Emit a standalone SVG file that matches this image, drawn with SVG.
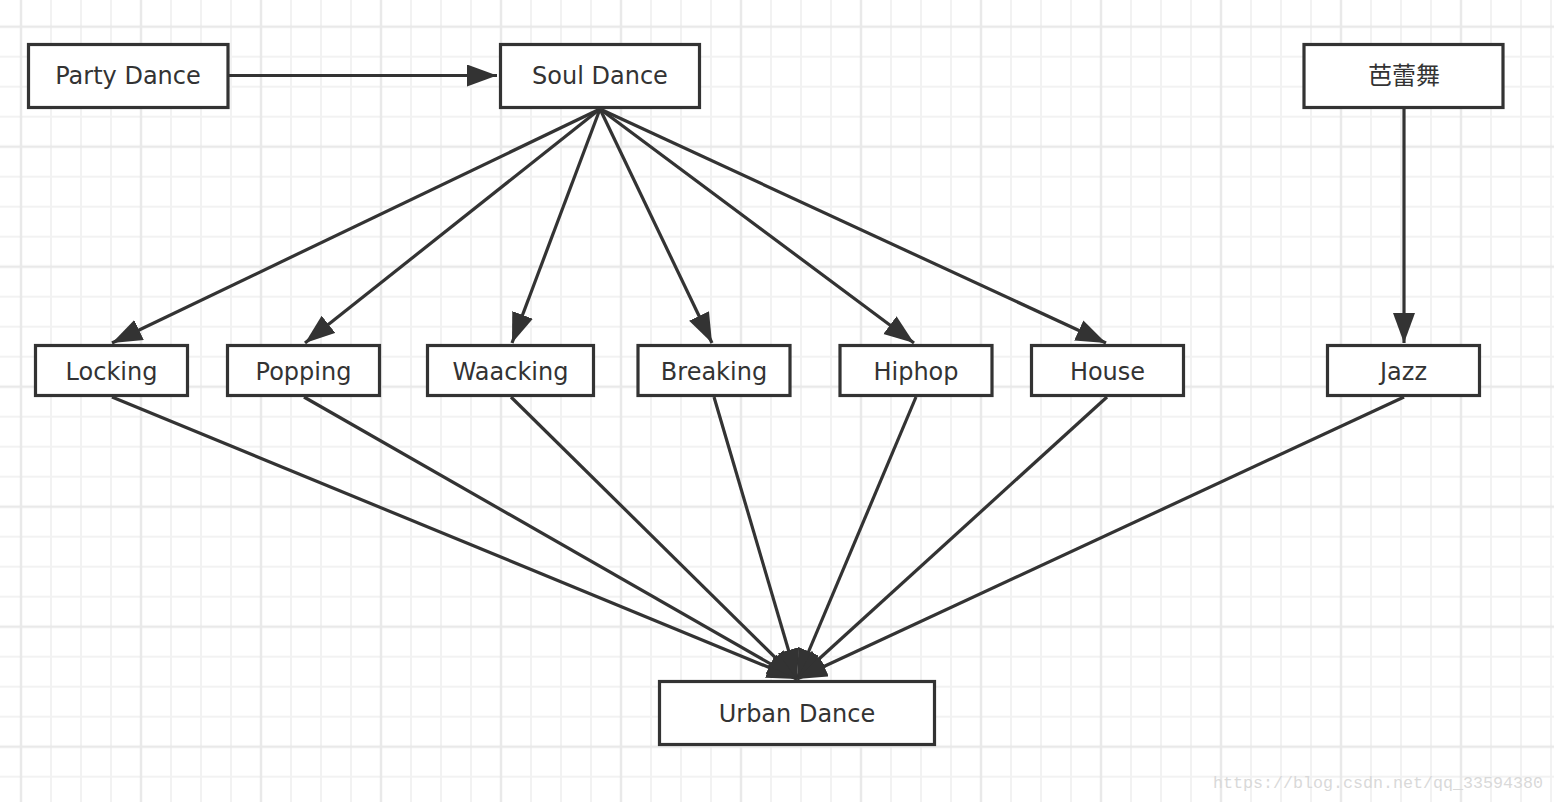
<svg xmlns="http://www.w3.org/2000/svg" width="1554" height="802" viewBox="0 0 1554 802">
<style>
.box{fill:#ffffff;stroke:#333333;stroke-width:3.2}
.lbl{font-family:"DejaVu Sans","Noto Sans CJK SC",sans-serif;font-size:24px;fill:#333333;text-anchor:middle}
.cn{font-family:"Noto Sans CJK SC",sans-serif}
.edge{stroke:#333333;stroke-width:3.2;fill:none;marker-end:url(#ah)}
.mn{stroke:#f2f2f2;stroke-width:2}
.mj{stroke:#e9e9e9;stroke-width:2.5}
</style>
<defs>
<pattern id="grid" patternUnits="userSpaceOnUse" x="6" y="11.7" width="120" height="120">
<path class="mn" d="M45 0V120M75 0V120M105 0V120M0 45H120M0 75H120M0 105H120"/>
<path class="mj" d="M15 0V120M0 15H120"/>
</pattern>
<marker id="ah" markerUnits="userSpaceOnUse" markerWidth="32" markerHeight="24" refX="30" refY="11" orient="auto" viewBox="0 0 32 24">
<path d="M0 0L30 11L0 22z" fill="#333333"/>
</marker>
</defs>
<rect width="1554" height="802" fill="#ffffff"/>
<rect width="1554" height="802" fill="url(#grid)"/>
<g id="connectors">
<line class="edge" x1="229" y1="75.5" x2="497" y2="75.5"/>
<line class="edge" x1="600" y1="109" x2="112" y2="343"/>
<line class="edge" x1="600" y1="109" x2="305" y2="343"/>
<line class="edge" x1="600" y1="109" x2="512" y2="343"/>
<line class="edge" x1="600" y1="109" x2="712" y2="343"/>
<line class="edge" x1="600" y1="109" x2="914" y2="343"/>
<line class="edge" x1="600" y1="109" x2="1106" y2="343"/>
<line class="edge" x1="1404" y1="109" x2="1404" y2="343"/>
<line class="edge" x1="112" y1="397" x2="797" y2="679"/>
<line class="edge" x1="304" y1="397" x2="797" y2="679"/>
<line class="edge" x1="511" y1="397" x2="797" y2="679"/>
<line class="edge" x1="714" y1="397" x2="797" y2="679"/>
<line class="edge" x1="916" y1="397" x2="797" y2="679"/>
<line class="edge" x1="1107" y1="397" x2="797" y2="679"/>
<line class="edge" x1="1404" y1="397" x2="797" y2="679"/>
</g>
<g id="party"><rect class="box" x="28.5" y="44.5" width="199.5" height="63"/><text class="lbl" x="128" y="84">Party Dance</text></g>
<g id="soul"><rect class="box" x="500.5" y="44.5" width="199" height="63"/><text class="lbl" x="600" y="84">Soul Dance</text></g>
<g id="ballet"><rect class="box" x="1304" y="44.5" width="199" height="63"/><text class="lbl cn" x="1404" y="84">芭蕾舞</text></g>
<g id="locking"><rect class="box" x="35.5" y="345.5" width="152" height="50"/><text class="lbl" x="111.5" y="380">Locking</text></g>
<g id="popping"><rect class="box" x="227.5" y="345.5" width="152" height="50"/><text class="lbl" x="303.5" y="380">Popping</text></g>
<g id="waacking"><rect class="box" x="427.5" y="345.5" width="166" height="50"/><text class="lbl" x="510.5" y="380">Waacking</text></g>
<g id="breaking"><rect class="box" x="638" y="345.5" width="152" height="50"/><text class="lbl" x="714" y="380">Breaking</text></g>
<g id="hiphop"><rect class="box" x="840" y="345.5" width="152" height="50"/><text class="lbl" x="916" y="380">Hiphop</text></g>
<g id="house"><rect class="box" x="1031.5" y="345.5" width="152" height="50"/><text class="lbl" x="1107.5" y="380">House</text></g>
<g id="jazz"><rect class="box" x="1327.5" y="345.5" width="152" height="50"/><text class="lbl" x="1403.5" y="380">Jazz</text></g>
<g id="urban"><rect class="box" x="659.5" y="681.5" width="275" height="63"/><text class="lbl" x="797" y="722">Urban Dance</text></g>
<text x="1213" y="788" font-family="Liberation Mono, monospace" font-size="17" fill="#d9d9d9" textLength="330" lengthAdjust="spacingAndGlyphs">https://blog.csdn.net/qq_33594380</text>
</svg>
